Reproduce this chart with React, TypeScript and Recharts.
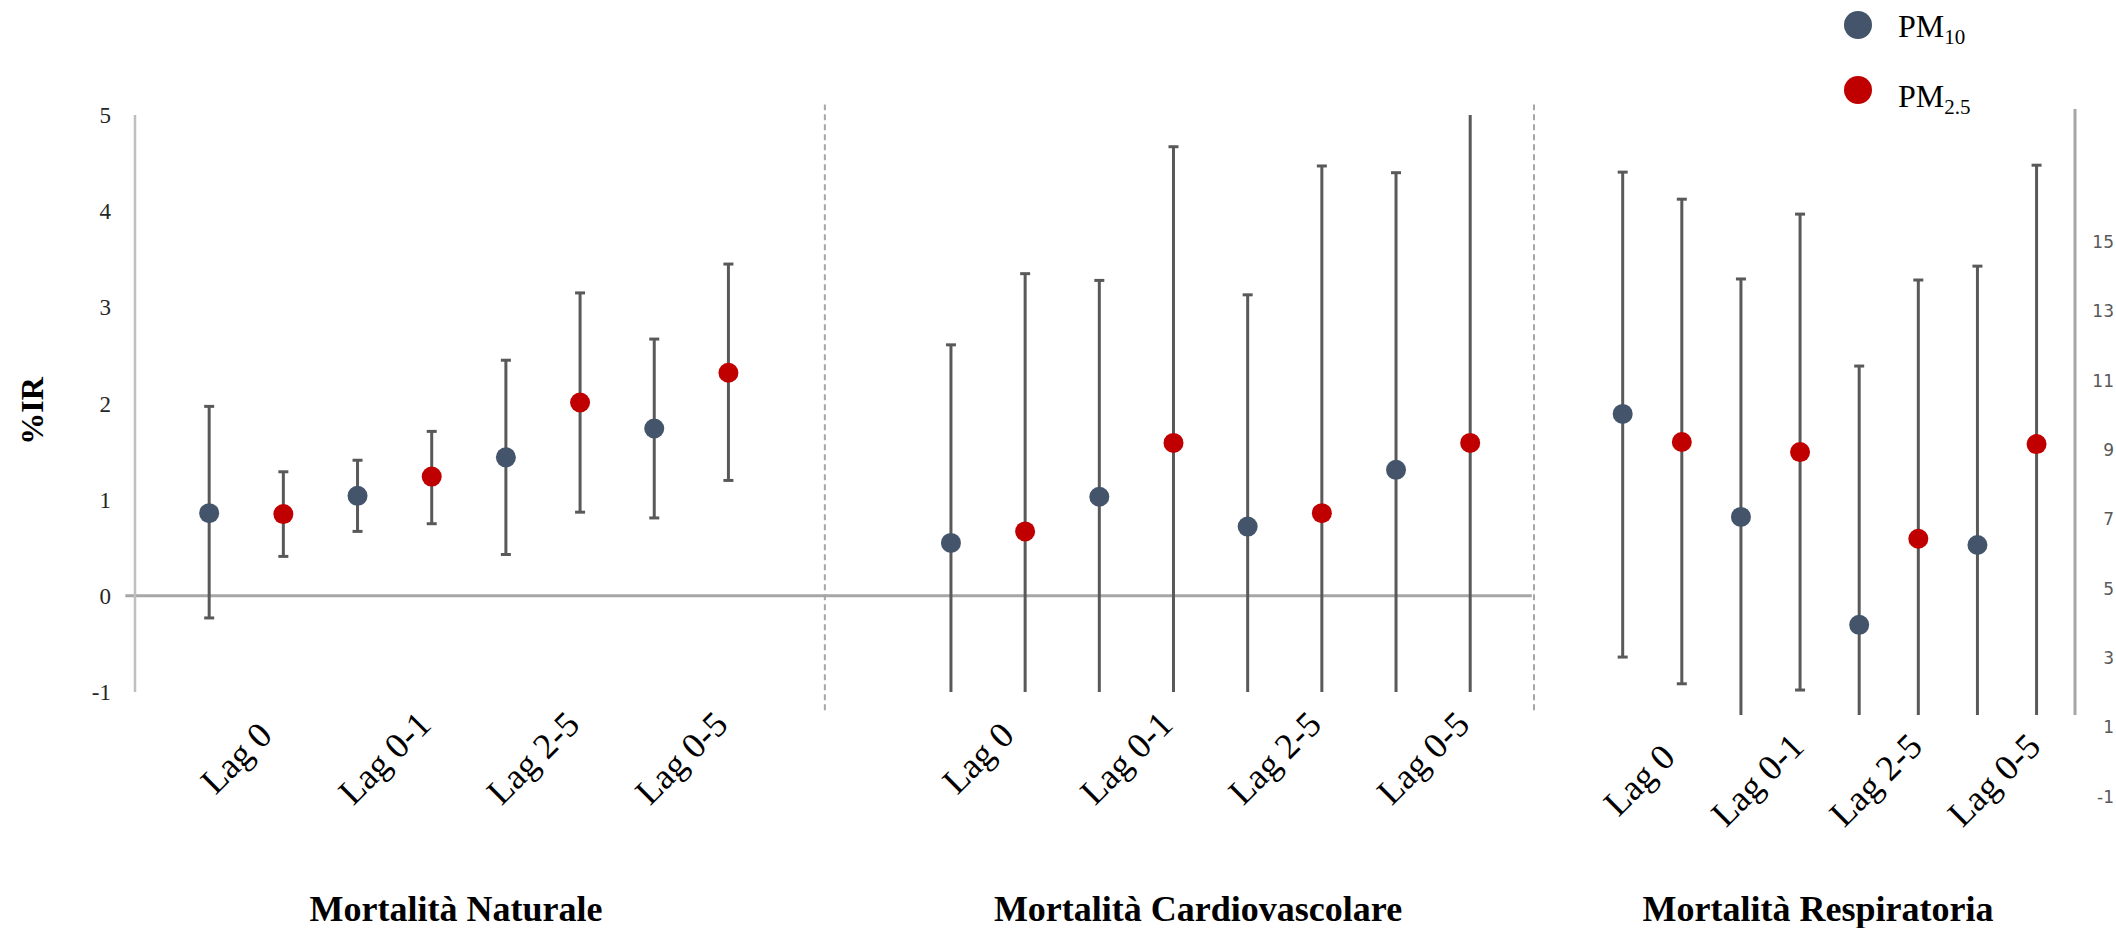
import React from 'react';
import { ComposedChart, Scatter, ErrorBar, XAxis, YAxis, ReferenceLine } from 'recharts';

const lags = ['Lag 0', 'Lag 0-1', 'Lag 2-5', 'Lag 0-5'];
const panelTitles = ['Mortalità Naturale', 'Mortalità Cardiovascolare', 'Mortalità Respiratoria'];

// Mortalità Naturale (%IR, scala sinistra)
const naturalePM10 = [0.86, 1.04, 1.44, 1.74];
const naturalePM10Low = [-0.23, 0.67, 0.43, 0.81];
const naturalePM10High = [1.97, 1.41, 2.45, 2.67];
const naturalePM25 = [0.85, 1.24, 2.01, 2.32];
const naturalePM25Low = [0.41, 0.75, 0.87, 1.2];
const naturalePM25High = [1.29, 1.71, 3.15, 3.45];

// Mortalità Cardiovascolare (%IR, scala sinistra)
const cardioPM10 = [0.55, 1.03, 0.72, 1.31];
const cardioPM10Low = [-1.51, -1.22, -1.69, -1.78];
const cardioPM10High = [2.61, 3.28, 3.13, 4.4];
const cardioPM25 = [0.67, 1.59, 0.86, 1.59];
const cardioPM25Low = [-2.01, -1.49, -2.75, -2.0];
const cardioPM25High = [3.35, 4.67, 4.47, 5.2];

// Mortalità Respiratoria (scala destra)
const respPM10 = [10.04, 7.07, 3.96, 6.26];
const respPM10Low = [3.03, 0.2, -3.5, -1.8];
const respPM10High = [17.01, 13.93, 11.42, 14.3];
const respPM25 = [9.23, 8.94, 6.44, 9.17];
const respPM25Low = [2.26, 2.08, -1.0, 1.13];
const respPM25High = [16.23, 15.8, 13.9, 17.21];

const leftTicks = [-1, 0, 1, 2, 3, 4, 5];
const rightTicks = [-1, 1, 3, 5, 7, 9, 11, 13, 15];

const PM10_COLOR = '#44546A';
const PM25_COLOR = '#C00000';
const BAR_COLOR = '#595959';
const SERIF = '"Liberation Serif", "DejaVu Serif", serif';

// posizioni sull'asse x: 2 punti per lag, il secondo pannello parte da 10
const PANEL2_START = 10;
const separatorsA = [8.3, 17.86];

function toPoints(values: number[], low: number[], high: number[], start: number) {
  return values.map((v, i) => ({ x: start + 2 * i, y: v, err: [v - low[i], high[i] - v] }));
}

const natPM10Data = toPoints(naturalePM10, naturalePM10Low, naturalePM10High, 0);
const natPM25Data = toPoints(naturalePM25, naturalePM25Low, naturalePM25High, 1);
const cardPM10Data = toPoints(cardioPM10, cardioPM10Low, cardioPM10High, PANEL2_START);
const cardPM25Data = toPoints(cardioPM25, cardioPM25Low, cardioPM25High, PANEL2_START + 1);
const respPM10Data = toPoints(respPM10, respPM10Low, respPM10High, 0);
const respPM25Data = toPoints(respPM25, respPM25Low, respPM25High, 1);

const lagTicksA = lags.map((_, i) => 2 * i + 0.5).concat(lags.map((_, i) => PANEL2_START + 2 * i + 0.5));
const lagTicksB = lags.map((_, i) => 2 * i + 0.5);

const lagFor = (v: number) => lags[Math.floor((v >= PANEL2_START ? v - PANEL2_START : v) / 2)];

const renderLagTick = (props: any, offX: number, offY: number) => {
  const cx = props.x + offX;
  const cy = props.y + offY;
  return (
    <text
      x={cx}
      y={cy}
      transform={`rotate(-45 ${cx} ${cy})`}
      textAnchor="middle"
      dominantBaseline="central"
      fontFamily={SERIF}
      fontSize={36}
      fill="#000"
    >
      {lagFor(props.payload.value)}
    </text>
  );
};

const renderRightTick = (props: any) => (
  <text
    x={props.x + 39}
    y={props.y}
    textAnchor="end"
    dominantBaseline="central"
    fontFamily='"DejaVu Sans", sans-serif'
    fontSize={17}
    fill="#595959"
  >
    {props.payload.value}
  </text>
);

const dot = (color: string) => (p: any) => <circle cx={p.cx} cy={p.cy} r={10} fill={color} />;

const errBar = () => (
  <ErrorBar dataKey="err" direction="y" width={5} stroke={BAR_COLOR} strokeWidth={3} isAnimationActive={false} />
);

// le barre d'errore vengono tagliate al riquadro del grafico, come nell'originale
const clipCss = `
body{margin:0}
.chart-a [class*="errorBar"]{clip-path:url(#plot-clip-a)}
.chart-b [class*="errorBar"]{clip-path:url(#plot-clip-b)}
`;

export default function App() {
  return (
    <div style={{ position: 'relative', width: 2116, height: 928, background: '#fff' }}>
      <style>{clipCss}</style>

      {/* pannelli Naturale + Cardiovascolare */}
      <div className="chart-a" style={{ position: 'absolute', left: 0, top: 0 }}>
        <ComposedChart width={1560} height={928} margin={{ top: 115, right: 26, bottom: 86, left: 0 }}>
          <XAxis
            type="number"
            dataKey="x"
            domain={[-1, 17.86]}
            allowDataOverflow
            ticks={lagTicksA}
            interval={0}
            axisLine={false}
            tickLine={false}
            tickSize={0}
            tickMargin={0}
            height={150}
            tick={(p: any) => renderLagTick(p, -10, 66)}
          />
          <YAxis
            type="number"
            dataKey="y"
            domain={[-1, 5]}
            allowDataOverflow
            ticks={leftTicks}
            interval={0}
            width={135}
            axisLine={{ stroke: '#BFBFBF', strokeWidth: 2.5 }}
            tickLine={false}
            tickSize={6}
            tickMargin={18}
            tick={{ fontSize: 23, fill: '#262626', fontFamily: SERIF }}
          />
          <ReferenceLine
            segment={[{ x: -1.13, y: 0 }, { x: 17.83, y: 0 }]}
            ifOverflow="visible"
            stroke="#A6A6A6"
            strokeWidth={3}
          />
          {separatorsA.map((s) => (
            <ReferenceLine
              key={s}
              segment={[{ x: s, y: -1.19 }, { x: s, y: 5.11 }]}
              ifOverflow="visible"
              stroke="#A6A6A6"
              strokeWidth={2}
              strokeDasharray="6 4"
            />
          ))}
          <Scatter data={natPM10Data} shape={dot(PM10_COLOR)} isAnimationActive={false}>
            {errBar()}
          </Scatter>
          <Scatter data={natPM25Data} shape={dot(PM25_COLOR)} isAnimationActive={false}>
            {errBar()}
          </Scatter>
          <Scatter data={cardPM10Data} shape={dot(PM10_COLOR)} isAnimationActive={false}>
            {errBar()}
          </Scatter>
          <Scatter data={cardPM25Data} shape={dot(PM25_COLOR)} isAnimationActive={false}>
            {errBar()}
          </Scatter>
        </ComposedChart>
      </div>

      {/* pannello Respiratoria, asse destro */}
      <div className="chart-b" style={{ position: 'absolute', left: 1500, top: 0 }}>
        <ComposedChart width={616} height={928} margin={{ top: 109, right: 0, bottom: 83, left: 34 }}>
          <XAxis
            type="number"
            dataKey="x"
            domain={[-1.5, 7.65]}
            allowDataOverflow
            ticks={lagTicksB}
            interval={0}
            axisLine={false}
            tickLine={false}
            tickSize={0}
            tickMargin={0}
            height={130}
            tick={(p: any) => renderLagTick(p, -13, 65)}
          />
          <YAxis
            type="number"
            dataKey="y"
            orientation="right"
            domain={[1.36, 18.83]}
            allowDataOverflow
            ticks={rightTicks}
            interval={0}
            width={41}
            axisLine={{ stroke: '#A6A6A6', strokeWidth: 3 }}
            tickLine={false}
            tickSize={0}
            tickMargin={0}
            tick={renderRightTick}
          />
          <Scatter data={respPM10Data} shape={dot(PM10_COLOR)} isAnimationActive={false}>
            {errBar()}
          </Scatter>
          <Scatter data={respPM25Data} shape={dot(PM25_COLOR)} isAnimationActive={false}>
            {errBar()}
          </Scatter>
        </ComposedChart>
      </div>

      {/* testi: asse, titoli dei pannelli, legenda */}
      <svg
        width={2116}
        height={928}
        style={{ position: 'absolute', left: 0, top: 0, pointerEvents: 'none' }}
        fontFamily={SERIF}
      >
        <defs>
          <clipPath id="plot-clip-a" clipPathUnits="userSpaceOnUse">
            <rect x={135} y={115} width={1399} height={577} />
          </clipPath>
          <clipPath id="plot-clip-b" clipPathUnits="userSpaceOnUse">
            <rect x={34} y={109} width={541} height={606} />
          </clipPath>
        </defs>
        <text
          x={32}
          y={411}
          transform="rotate(-90 32 411)"
          textAnchor="middle"
          dominantBaseline="central"
          fontWeight="bold"
          fontSize={32}
        >
          %IR
        </text>
        {[456, 1198, 1818].map((cx, i) => (
          <text key={i} x={cx} y={921} textAnchor="middle" fontWeight="bold" fontSize={36}>
            {panelTitles[i]}
          </text>
        ))}
        <circle cx={1858} cy={25} r={14} fill={PM10_COLOR} />
        <text x={1898} y={37} fontSize={32}>
          PM<tspan fontSize={21} dy={7}>10</tspan>
        </text>
        <circle cx={1858} cy={90} r={14} fill={PM25_COLOR} />
        <text x={1898} y={107} fontSize={32}>
          PM<tspan fontSize={21} dy={7}>2.5</tspan>
        </text>
      </svg>
    </div>
  );
}
